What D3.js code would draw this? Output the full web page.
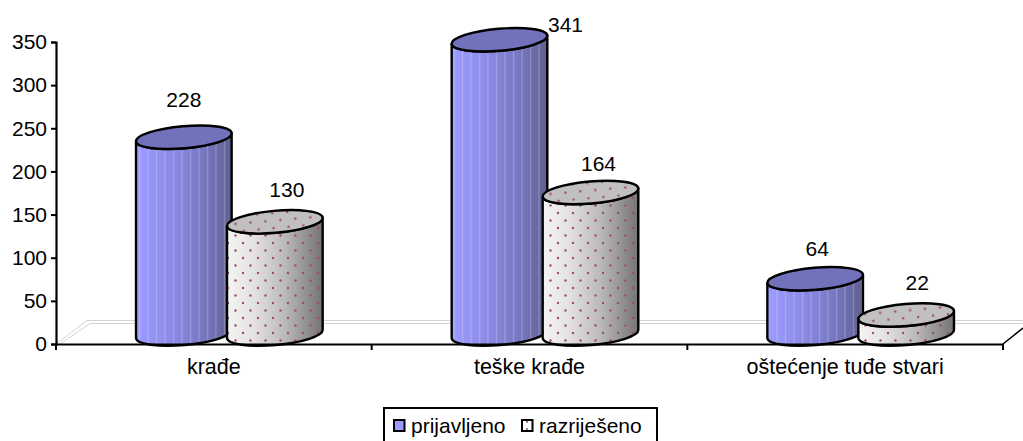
<!DOCTYPE html>
<html><head><meta charset="utf-8">
<script src="https://cdn.jsdelivr.net/npm/d3@7/dist/d3.min.js"></script>
<style>html,body{margin:0;padding:0;background:#fff;overflow:hidden}svg{display:block}text{font-family:"Liberation Sans",Arial,sans-serif;fill:#000}</style>
</head><body><script>
const categories = ["krađe","teške krađe","oštećenje tuđe stvari"];
const seriesNames = ["prijavljeno","razriješeno"];
const prijavljeno = [228,341,64];
const razrijeseno = [130,164,22];
const yTicks = [0,50,100,150,200,250,300,350];

const W=1023,H=441,FS=21;
const svg=d3.select("body").append("svg").attr("width",W).attr("height",H);
const x=d3.scaleBand().domain(categories).range([56,1003]);
const y=d3.scaleLinear().domain([0,350]).range([344,42]);
const depth=10, baseY=v=>y(v)-depth;
const RX=48,RY=11,ROT=-5,rad=ROT*Math.PI/180;
const seriesOffset=[-30,61];
const labelDX=[[0,66,2],[12,8,11]], labelDY=[[-38,-15,-30],[-32,-29.5,-33]];

const defs=svg.append("defs");
const stripe=defs.append("pattern").attr("id","pStripe").attr("patternUnits","userSpaceOnUse").attr("width",8.5).attr("height",8);
stripe.append("rect").attr("x",3).attr("width",1).attr("height",8).attr("fill","#fff").attr("opacity",.28);
const dots=defs.append("pattern").attr("id","pDots").attr("patternUnits","userSpaceOnUse").attr("width",15).attr("height",15);
[[3,3],[10.5,10.5]].forEach(p=>dots.append("circle").attr("cx",p[0]).attr("cy",p[1]).attr("r",1.2).attr("fill","#a04a78"));

// floor
const floor=svg.append("g").attr("fill","none").attr("stroke","#d4d4d4").attr("stroke-width",1);
floor.append("path").attr("d",`M56,344L87,320.5H${W}`);
floor.append("path").attr("d",`M60,344L90,323.5H${W}`);

// cylinders
const dx=RX*Math.cos(rad), dy=RX*Math.sin(rad);
function sidePath(cx,v){const t=baseY(v), b=baseY(0);
 return `M${cx-dx},${t-dy}L${cx-dx},${b-dy}A${RX},${RY} ${ROT} 0 0 ${cx+dx},${b+dy}L${cx+dx},${t+dy}A${RX},${RY} ${ROT} 0 1 ${cx-dx},${t-dy}Z`;}
const all=[prijavljeno,razrijeseno];
categories.forEach((c,i)=>{
 all.forEach((vals,s)=>{
  const v=vals[i], cx=x(c)+x.bandwidth()/2+seriesOffset[s], g=svg.append("g");
  const d=sidePath(cx,v);
  const gr=defs.append("linearGradient").attr("id",`g${i}${s}`).attr("gradientUnits","userSpaceOnUse")
    .attr("x1",cx-dx).attr("x2",cx+dx).attr("y1",0).attr("y2",0);
  (s==0?[[0,"#9c9cff"],[.35,"#8c8ce8"],[.75,"#7474bc"],[1,"#60608f"]]:[[0,"#f4f4f4"],[.28,"#e2e2e2"],[.6,"#bababa"],[1,"#747474"]])
    .forEach(p=>gr.append("stop").attr("offset",p[0]).attr("stop-color",p[1]));
  g.append("path").attr("d",d).attr("fill",`url(#g${i}${s})`);
  g.append("path").attr("d",d).attr("fill",s==0?"url(#pStripe)":"url(#pDots)");
  g.append("path").attr("d",d).attr("fill","none").attr("stroke","#000").attr("stroke-width",2.4).attr("stroke-linejoin","round");
  const e=`translate(${cx},${baseY(v)}) rotate(${ROT})`;
  g.append("ellipse").attr("rx",RX).attr("ry",RY).attr("transform",e).attr("fill",s==0?"#7272bc":"#c0c0c0");
  if(s==1) g.append("ellipse").attr("cx",cx).attr("cy",baseY(v)).attr("rx",RX).attr("ry",RY).attr("fill","url(#pDots)")
     .attr("transform",`rotate(${ROT} ${cx} ${baseY(v)})`);
  g.append("ellipse").attr("rx",RX).attr("ry",RY).attr("transform",e).attr("fill","none").attr("stroke","#000").attr("stroke-width",2.4);
  svg.append("text").attr("x",cx+labelDX[s][i]).attr("y",baseY(v)+labelDY[s][i]).attr("dy",".36em").attr("text-anchor","middle").attr("font-size",FS).text(v);
 });
});

// axes
const ax=svg.append("g").attr("transform","translate(56,0)").call(d3.axisLeft(y).tickValues(yTicks).tickSize(5).tickPadding(4));
const bx=svg.append("g").attr("transform","translate(0,344)").call(d3.axisBottom(x).tickSize(0).tickPadding(15));
[ax,bx].forEach(a=>{a.selectAll("text").attr("font-size",FS).attr("font-family",null);
 a.selectAll("path,line").attr("stroke","#000").attr("stroke-width",2);a.select(".domain").attr("stroke-width",2.2);});
bx.selectAll("text").attr("font-size",21.5);
svg.selectAll(".sep").data(d3.range(4)).join("line").attr("x1",i=>56+i*x.bandwidth()).attr("x2",i=>56+i*x.bandwidth())
 .attr("y1",344).attr("y2",350).attr("stroke","#000").attr("stroke-width",2);
svg.append("path").attr("d",`M1003,344L${W},328`).attr("stroke","#000").attr("stroke-width",1.6).attr("fill","none");

// legend
const lg=svg.append("g");
lg.append("rect").attr("x",384).attr("y",408).attr("width",273).attr("height",40).attr("fill","#fff").attr("stroke","#000").attr("stroke-width",2);
const lx=[394,522];
seriesNames.forEach((n,i)=>{
 lg.append("rect").attr("x",lx[i]).attr("y",420).attr("width",10.5).attr("height",11).attr("fill",i?"#fff":"#9999ff").attr("stroke","#000").attr("stroke-width",2);
 if(i){lg.append("circle").attr("cx",lx[i]+5).attr("cy",422).attr("r",1).attr("fill","#a04a78");lg.append("circle").attr("cx",lx[i]+5).attr("cy",429).attr("r",1).attr("fill","#a04a78");}
 lg.append("text").attr("x",lx[i]+17).attr("y",432.5).attr("font-size",FS).text(n);
});
</script></body></html>
